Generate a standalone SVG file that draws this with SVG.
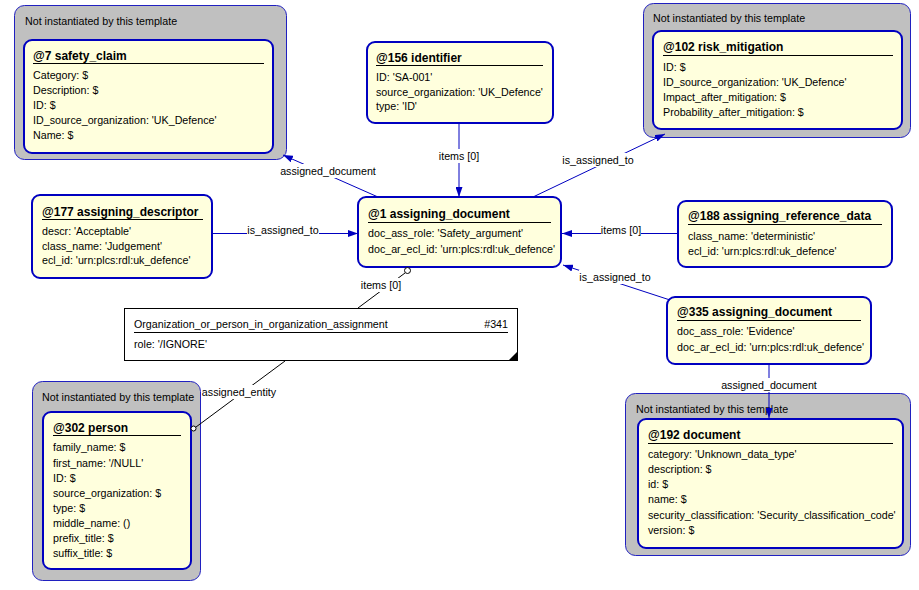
<svg xmlns="http://www.w3.org/2000/svg" width="919" height="590" viewBox="0 0 919 590">
<style>
text{font-family:"Liberation Sans",Arial,sans-serif;font-size:10.7px;fill:#000}
.h{font-weight:bold;font-size:12px}
.outer{fill:#c0c0c0;stroke:#2020c0;stroke-width:1}
.box{fill:#ffffdd;stroke:#0000c0;stroke-width:2}
.ul{stroke:#000;stroke-width:1}
.con{stroke:#0000c0;stroke-width:1;fill:none}
.bl{stroke:#000;stroke-width:1;fill:none}
.lb{fill:#fff}
</style>
<defs>
<marker id="arr" markerUnits="userSpaceOnUse" markerWidth="10" markerHeight="7" refX="10" refY="3.5" orient="auto">
<path d="M0,0 L10,3.5 L0,7 z" fill="#0000c0"/>
</marker>
</defs>
<rect width="919" height="590" fill="#fff"/>

<g id="n7">
<rect class="outer" x="14.5" y="5.5" width="272" height="154" rx="10"/>
<text x="25" y="25">Not instantiated by this template</text>
<rect class="box" x="24" y="40" width="249" height="113" rx="8"/>
<text class="h" x="33" y="60">@7 safety_claim</text>
<line class="ul" x1="33" y1="63.5" x2="264" y2="63.5"/>
<text x="33" y="79">Category: $</text>
<text x="33" y="94">Description: $</text>
<text x="33" y="109">ID: $</text>
<text x="33" y="124">ID_source_organization: 'UK_Defence'</text>
<text x="33" y="139">Name: $</text>
</g>

<g id="n156">
<rect class="box" x="367" y="42" width="186" height="81" rx="8"/>
<text class="h" x="376" y="62">@156 identifier</text>
<line class="ul" x1="376" y1="65.5" x2="543" y2="65.5"/>
<text x="376" y="81">ID: 'SA-001'</text>
<text x="376" y="96">source_organization: 'UK_Defence'</text>
<text x="376" y="110">type: 'ID'</text>
</g>

<g id="n102">
<rect class="outer" x="643.5" y="3.5" width="267" height="134" rx="10"/>
<text x="653" y="22">Not instantiated by this template</text>
<rect class="box" x="653" y="31" width="249" height="98" rx="8"/>
<text class="h" x="663" y="51">@102 risk_mitigation</text>
<line class="ul" x1="663" y1="55.5" x2="893" y2="55.5"/>
<text x="663" y="71">ID: $</text>
<text x="663" y="86">ID_source_organization: 'UK_Defence'</text>
<text x="663" y="101">Impact_after_mitigation: $</text>
<text x="663" y="116">Probability_after_mitigation: $</text>
</g>

<g id="n177">
<rect class="box" x="32" y="195" width="180" height="83" rx="8"/>
<text class="h" x="42" y="216">@177 assigning_descriptor</text>
<line class="ul" x1="42" y1="219.5" x2="203" y2="219.5"/>
<text x="42" y="235">descr: 'Acceptable'</text>
<text x="42" y="250">class_name: 'Judgement'</text>
<text x="42" y="264">ecl_id: 'urn:plcs:rdl:uk_defence'</text>
</g>

<g id="n1">
<rect class="box" x="358" y="197" width="203" height="70" rx="8"/>
<text class="h" x="368" y="218">@1 assigning_document</text>
<line class="ul" x1="368" y1="222.5" x2="551" y2="222.5"/>
<text x="368" y="237">doc_ass_role: 'Safety_argument'</text>
<text x="368" y="253">doc_ar_ecl_id: 'urn:plcs:rdl:uk_defence'</text>
</g>

<g id="n188">
<rect class="box" x="678" y="201" width="214" height="66" rx="8"/>
<text class="h" x="688" y="220">@188 assigning_reference_data</text>
<line class="ul" x1="688" y1="224.5" x2="882" y2="224.5"/>
<text x="688" y="240">class_name: 'deterministic'</text>
<text x="688" y="255">ecl_id: 'urn:plcs:rdl:uk_defence'</text>
</g>

<g id="n341">
<rect x="124.5" y="308.5" width="393" height="52" fill="#fff" stroke="#000"/>
<text x="134" y="328">Organization_or_person_in_organization_assignment</text>
<text x="508" y="328" text-anchor="end">#341</text>
<line class="ul" x1="134" y1="332.5" x2="508" y2="332.5"/>
<text x="134" y="348">role: '/IGNORE'</text>
<polygon points="518,351 518,361 508,361" fill="#000"/>
</g>

<g id="n335">
<rect class="box" x="667" y="297" width="204" height="67" rx="8"/>
<text class="h" x="677" y="316">@335 assigning_document</text>
<line class="ul" x1="677" y1="320.5" x2="861" y2="320.5"/>
<text x="677" y="335">doc_ass_role: 'Evidence'</text>
<text x="677" y="351">doc_ar_ecl_id: 'urn:plcs:rdl:uk_defence'</text>
</g>

<g id="n302">
<rect class="outer" x="32.5" y="381.5" width="168" height="199" rx="10"/>
<text x="42" y="401">Not instantiated by this template</text>
<rect class="box" x="43" y="412" width="148" height="157" rx="8"/>
<text class="h" x="53" y="432">@302 person</text>
<line class="ul" x1="53" y1="435.5" x2="181" y2="435.5"/>
<text x="53" y="451">family_name: $</text>
<text x="53" y="467">first_name: '/NULL'</text>
<text x="53" y="482">ID: $</text>
<text x="53" y="497">source_organization: $</text>
<text x="53" y="512">type: $</text>
<text x="53" y="527">middle_name: ()</text>
<text x="53" y="542">prefix_title: $</text>
<text x="53" y="557">suffix_title: $</text>
</g>

<g id="n192">
<rect class="outer" x="625.5" y="393.5" width="285" height="162" rx="10"/>
<text x="636" y="413">Not instantiated by this template</text>
<rect class="box" x="638" y="419" width="265" height="129" rx="8"/>
<text class="h" x="648" y="439">@192 document</text>
<line class="ul" x1="648" y1="443.5" x2="893" y2="443.5"/>
<text x="648" y="458">category: 'Unknown_data_type'</text>
<text x="648" y="473">description: $</text>
<text x="648" y="488">id: $</text>
<text x="648" y="503">name: $</text>
<text x="648" y="519">security_classification: 'Security_classification_code'</text>
<text x="648" y="534">version: $</text>
</g>

<g id="connectors">
<line class="con" x1="378" y1="197" x2="283" y2="155" marker-end="url(#arr)"/>
<line class="con" x1="459" y1="124" x2="459" y2="197" marker-end="url(#arr)"/>
<line class="con" x1="533" y1="197" x2="665" y2="134" marker-end="url(#arr)"/>
<line class="con" x1="212" y1="233.5" x2="358" y2="233.5" marker-end="url(#arr)"/>
<line class="con" x1="678" y1="233.5" x2="562" y2="233.5" marker-end="url(#arr)"/>
<line class="con" x1="670" y1="300" x2="563" y2="265" marker-end="url(#arr)"/>
<line class="bl" x1="405" y1="273" x2="358" y2="308"/>
<circle cx="407.5" cy="270.5" r="3" fill="#fff" stroke="#000"/>
<line class="bl" x1="285" y1="361" x2="196" y2="427"/>
<circle cx="193.5" cy="428.5" r="2.5" fill="#fff" stroke="#000"/>
<line class="con" x1="769" y1="364" x2="769" y2="418" marker-end="url(#arr)"/>
<g id="labels">
<rect class="lb" x="280" y="164" width="96" height="14"/>
<text x="328" y="175" text-anchor="middle">assigned_document</text>
<rect class="lb" x="439" y="149" width="40" height="14"/>
<text x="459" y="160" text-anchor="middle">items [0]</text>
<rect class="lb" x="562" y="153" width="72" height="14"/>
<text x="598" y="164" text-anchor="middle">is_assigned_to</text>
<rect class="lb" x="247" y="223" width="72" height="14"/>
<text x="283" y="234" text-anchor="middle">is_assigned_to</text>
<rect class="lb" x="601" y="223" width="40" height="14"/>
<text x="621" y="234" text-anchor="middle">items [0]</text>
<rect class="lb" x="579" y="270" width="72" height="14"/>
<text x="615" y="281" text-anchor="middle">is_assigned_to</text>
<rect class="lb" x="361" y="278" width="40" height="14"/>
<text x="381" y="289" text-anchor="middle">items [0]</text>
<rect class="lb" x="202" y="385" width="74" height="14"/>
<text x="239" y="396" text-anchor="middle">assigned_entity</text>
<rect class="lb" x="721" y="378" width="96" height="14"/>
<text x="769" y="389" text-anchor="middle">assigned_document</text>
</g>
</g>
</svg>
